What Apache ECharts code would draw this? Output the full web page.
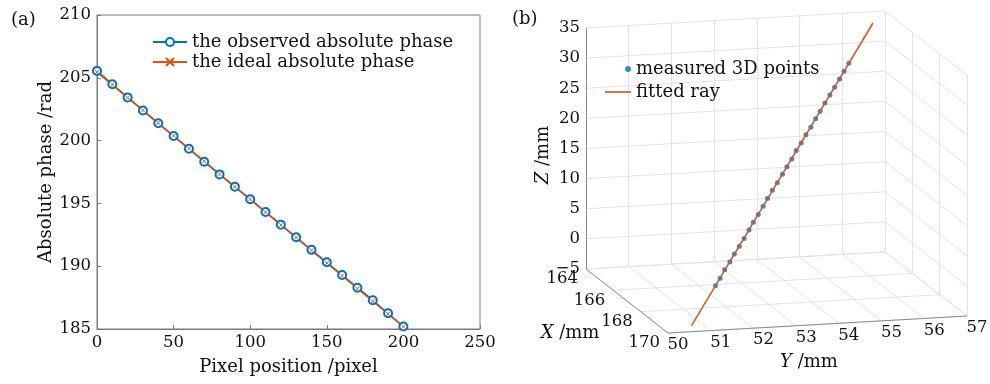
<!DOCTYPE html>
<html>
<head>
<meta charset="utf-8">
<script src="https://cdn.jsdelivr.net/npm/echarts@6.0.0/dist/echarts.min.js"></script>
<style>
  html, body { margin: 0; padding: 0; background: #fff; }
  #chart { width: 990px; height: 384px; }
</style>
</head>
<body>
<div id="chart"></div>
<script>
// ---- panel (a) data ----
const pixelPos = [0, 10, 20, 30, 40, 50, 60, 70, 80, 90, 100, 110, 120, 130, 140, 150, 160, 170, 180, 190, 200]
const observedPhase = [205.55, 204.48, 203.44, 202.40, 201.38, 200.36, 199.35, 198.31, 197.31, 196.32, 195.33,
  194.32, 193.31, 192.30, 191.30, 190.31, 189.30, 188.29, 187.29, 186.25, 185.20]
const idealPhase = [205.45, 204.44, 203.42, 202.41, 201.40, 200.38, 199.37, 198.36, 197.34, 196.33, 195.32,
  194.30, 193.29, 192.28, 191.26, 190.25, 189.24, 188.22, 187.21, 186.20, 185.18]

// ---- panel (b) data ----
const ptsX = [169.28, 169.13, 168.99, 168.84, 168.70, 168.56, 168.41, 168.27, 168.12, 167.98,
  167.83, 167.69, 167.54, 167.40, 167.25, 167.11, 166.97, 166.82, 166.68, 166.53,
  166.39, 166.24, 166.10, 165.95, 165.81, 165.66, 165.52, 165.38, 165.23]
const ptsY = [51.34, 51.50, 51.65, 51.82, 51.97, 52.13, 52.29, 52.45, 52.60, 52.76,
  52.92, 53.07, 53.23, 53.39, 53.56, 53.71, 53.87, 54.02, 54.18, 54.34,
  54.50, 54.66, 54.81, 54.97, 55.13, 55.29, 55.45, 55.60, 55.76]
const ptsZ = [1.02, 1.96, 3.05, 3.98, 5.03, 6.00, 6.96, 8.04, 9.01, 9.97,
  11.04, 11.98, 13.02, 13.96, 15.05, 16.00, 16.97, 18.03, 18.99, 20.02,
  20.96, 22.04, 22.98, 24.01, 25.03, 25.97, 27.02, 28.00, 29.01]
const rayX = [170.00, 164.50]
const rayY = [50.55, 56.56]
const rayZ = [-4.00, 34.07]

const xTicks3 = [164, 166, 168, 170]
const yTicks3 = [50, 51, 52, 53, 54, 55, 56, 57]
const zTicks3 = [-5, 0, 5, 10, 15, 20, 25, 30, 35]

const BLUE = '#0072BD'
const ORANGE = '#D95319'
const FONT = 'DejaVu Serif'
const INK = '#111'

// 3D box -> screen (orthographic view, matched to the figure)
const box = { x0: 164, x1: 170, y0: 50, y1: 57, z0: -5, z1: 35 }
function proj(x, y, z) {
  const dx = x - box.x0, dy = y - box.y0, dz = z - box.z0
  return [586 + dx * 13.67 + dy * 42.71, 269 + dx * 10.67 - dy * 2.43 - dz * 6.025]
}

// grid lines on the three back planes
const gridSegs = []
zTicks3.forEach(z => {
  gridSegs.push([proj(box.x0, box.y0, z), proj(box.x0, box.y1, z)])
  gridSegs.push([proj(box.x0, box.y1, z), proj(box.x1, box.y1, z)])
})
yTicks3.forEach(y => {
  gridSegs.push([proj(box.x0, y, box.z0), proj(box.x0, y, box.z1)])
  gridSegs.push([proj(box.x0, y, box.z0), proj(box.x1, y, box.z0)])
})
xTicks3.forEach(x => {
  gridSegs.push([proj(x, box.y1, box.z0), proj(x, box.y1, box.z1)])
  gridSegs.push([proj(x, box.y0, box.z0), proj(x, box.y1, box.z0)])
})
const axisSegs = [
  [proj(box.x0, box.y0, box.z0), proj(box.x0, box.y0, box.z1)],
  [proj(box.x0, box.y0, box.z0), proj(box.x1, box.y0, box.z0)],
  [proj(box.x1, box.y0, box.z0), proj(box.x1, box.y1, box.z0)]
]

function tickText(values, where, fmt, align) {
  return {
    type: 'custom',
    coordinateSystem: 'cartesian2d',
    xAxisIndex: 1, yAxisIndex: 1,
    silent: true,
    data: values.map(v => [v, 0]),
    renderItem: (params, api) => {
      const v = api.value(0)
      const p = api.coord(where(v))
      return {
        type: 'text', x: p[0], y: p[1],
        style: { text: fmt(v), fill: INK, font: '16.5px "' + FONT + '"', align: align, verticalAlign: 'middle' }
      }
    }
  }
}

const italicRich = { i: { fontStyle: 'italic', fontSize: 18, fontFamily: FONT, fill: INK } }

const chart = echarts.init(document.getElementById('chart'))
chart.setOption({
  animation: false,
  textStyle: { fontFamily: FONT },
  grid: [
    { left: 97, top: 15, width: 383, height: 314, show: true, borderColor: '#7a7a7a', borderWidth: 1 },
    { left: 0, top: 0, width: 990, height: 384 }
  ],
  xAxis: [
    {
      type: 'value', gridIndex: 0, min: 0, max: 250, interval: 50,
      name: 'Pixel position /pixel', nameLocation: 'middle', nameGap: 29,
      nameTextStyle: { color: INK, fontSize: 18, fontFamily: FONT },
      axisLine: { lineStyle: { color: '#7a7a7a' } },
      axisTick: { inside: true, length: 4, lineStyle: { color: '#7a7a7a' } },
      axisLabel: { color: INK, fontSize: 16.5, fontFamily: FONT, margin: 5 },
      splitLine: { show: false }
    },
    { type: 'value', gridIndex: 1, min: 0, max: 990, show: false }
  ],
  yAxis: [
    {
      type: 'value', gridIndex: 0, min: 185, max: 210, interval: 5,
      name: 'Absolute phase /rad', nameLocation: 'middle', nameGap: 41,
      nameTextStyle: { color: INK, fontSize: 18, fontFamily: FONT },
      axisLine: { show: true, lineStyle: { color: '#7a7a7a' } },
      axisTick: { show: true, inside: true, length: 4, lineStyle: { color: '#7a7a7a' } },
      axisLabel: { color: INK, fontSize: 16.5, fontFamily: FONT, margin: 6 },
      splitLine: { show: false }
    },
    { type: 'value', gridIndex: 1, min: 0, max: 384, inverse: true, show: false }
  ],
  legend: [
    {
      left: 147, top: 28, orient: 'vertical', itemWidth: 34, itemHeight: 10, itemGap: 2,
      textStyle: { color: INK, fontSize: 18, fontFamily: FONT },
      data: ['the observed absolute phase', 'the ideal absolute phase']
    },
    {
      left: 600, top: 55, orient: 'vertical', itemWidth: 26, itemHeight: 6, itemGap: 5,
      symbolKeepAspect: true,
      textStyle: { color: INK, fontSize: 18, fontFamily: FONT },
      data: [
        { name: 'measured 3D points', icon: 'path://M0,3L0.01,3L0,3.01Z M20,3A3,3 0 1,0 26,3A3,3 0 1,0 20,3Z' },
        { name: 'fitted ray', icon: 'path://M0,2.2L26,2.2L26,3.8L0,3.8Z' }
      ]
    }
  ],
  graphic: [
    { type: 'text', left: 11, top: 11, style: { text: '(a)', fill: INK, font: '18px "' + FONT + '"' } },
    { type: 'text', left: 512, top: 10, style: { text: '(b)', fill: INK, font: '18px "' + FONT + '"' } },
    {
      type: 'text', x: 570, y: 333,
      style: {
        text: '{i|X} /mm', fill: INK, font: '18px "' + FONT + '"', align: 'center', verticalAlign: 'middle',
        rich: italicRich
      }
    },
    {
      type: 'text', x: 809, y: 362,
      style: {
        text: '{i|Y} /mm', fill: INK, font: '18px "' + FONT + '"', align: 'center', verticalAlign: 'middle',
        rich: italicRich
      }
    },
    {
      type: 'text', x: 543, y: 155, rotation: Math.PI / 2,
      style: {
        text: '{i|Z} /mm', fill: INK, font: '18px "' + FONT + '"', align: 'center', verticalAlign: 'middle',
        rich: italicRich
      }
    }
  ],
  series: [
    {
      name: 'the observed absolute phase', type: 'line', xAxisIndex: 0, yAxisIndex: 0,
      data: pixelPos.map((x, i) => [x, observedPhase[i]]),
      symbol: 'emptyCircle', symbolSize: 8,
      itemStyle: { color: BLUE, borderWidth: 1.6 },
      lineStyle: { color: BLUE, width: 1.6 }
    },
    {
      name: 'the ideal absolute phase', type: 'line', xAxisIndex: 0, yAxisIndex: 0,
      data: pixelPos.map((x, i) => [x, idealPhase[i]]),
      symbol: 'path://M0,0L10,10M0,10L10,0', symbolSize: 4,
      itemStyle: { color: ORANGE, borderColor: ORANGE, borderWidth: 1 },
      lineStyle: { color: ORANGE, width: 1.6 }
    },
    {
      type: 'lines', coordinateSystem: 'cartesian2d', xAxisIndex: 1, yAxisIndex: 1, silent: true,
      polyline: false, z: 1,
      lineStyle: { color: '#e2e2e2', width: 1, opacity: 1 },
      data: gridSegs.map(s => ({ coords: s }))
    },
    {
      type: 'lines', coordinateSystem: 'cartesian2d', xAxisIndex: 1, yAxisIndex: 1, silent: true,
      polyline: false, z: 2,
      lineStyle: { color: '#8a8a8a', width: 1, opacity: 1 },
      data: axisSegs.map(s => ({ coords: s }))
    },
    tickText(zTicks3, v => { const p = proj(box.x0, box.y0, v); return [p[0] - 6, p[1]] },
      v => (v < 0 ? '\u2212' + (-v) : String(v)), 'right'),
    tickText(xTicks3, v => { const p = proj(v, box.y0, box.z0); return [p[0] - 8, p[1] + 10] },
      v => String(v), 'right'),
    tickText(yTicks3, v => { const p = proj(box.x1, v, box.z0); return [p[0] + 10, p[1] + 12] },
      v => String(v), 'center'),
    {
      name: 'measured 3D points', type: 'scatter', xAxisIndex: 1, yAxisIndex: 1, z: 3,
      data: ptsX.map((x, i) => proj(x, ptsY[i], ptsZ[i])),
      symbol: 'circle', symbolSize: 5,
      itemStyle: { color: BLUE }
    },
    {
      name: 'fitted ray', type: 'line', xAxisIndex: 1, yAxisIndex: 1, z: 4,
      data: rayX.map((x, i) => proj(x, rayY[i], rayZ[i])),
      symbol: 'none',
      itemStyle: { color: ORANGE },
      lineStyle: { color: ORANGE, width: 1.5 }
    }
  ]
})
</script>
</body>
</html>
